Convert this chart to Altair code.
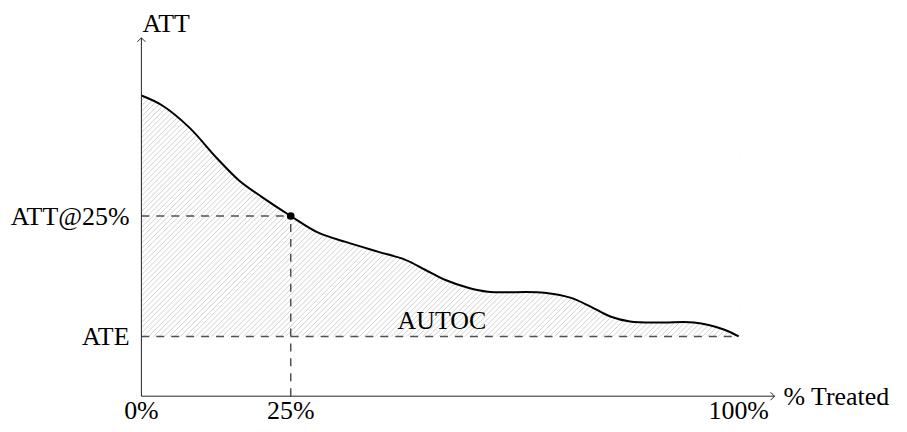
import altair as alt
import pandas as pd
import numpy as np

# ---- data ----
pct = [0, 3.5, 8, 12.5, 16.3, 20.2, 25, 29.7, 34.2, 39.7, 44.2, 47.5, 50.8, 54.7,
       58, 67.5, 71.8, 75.2, 78.5, 81.8, 87.2, 92.5, 97.5, 100]
att = [302, 292, 270, 240, 217, 200, 181, 164, 155, 145, 137, 127, 117, 109,
       105, 104, 99, 90, 80, 75, 74, 74, 67, 60]
ate_value = 60
att25_value = 181
att25_pct = 25
x_ticks = [0, 25, 100]
x_tick_labels = ["0%", "25%", "100%"]
y_labels = ["ATT@25%", "ATE"]
y_label_values = [att25_value, ate_value]

# ---- layout ----
W, H = 636, 360
XMAX, YMAX = 106, 360
FONT = "Liberation Serif"
FS = 26
INTERP = "catmull-rom"

xs = alt.Scale(domain=[0, XMAX], nice=False, zero=False)
ys = alt.Scale(domain=[0, YMAX], nice=False, zero=False)

curve = pd.DataFrame({"x": pct, "y": att})

# hatch lines (decoration) clipped to the box under the curve, then masked
L, R = 0.0, 100 / XMAX * W
T, B = H - max(att) / YMAX * H, H - ate_value / YMAX * H
step = 5.3
segs = []
c = L + T
while c < R + B:
    x1 = max(L, c - B)
    x2 = min(R, c - T)
    if x1 < x2:
        segs.append({
            "x": x1 / W * XMAX, "y": (H - (c - x1)) / H * YMAX,
            "x2": x2 / W * XMAX, "y2": (H - (c - x2)) / H * YMAX,
        })
    c += step
hatch_df = pd.DataFrame(segs)

hatch = alt.Chart(hatch_df).mark_rule(color="#cccccc", strokeWidth=0.9).encode(
    x=alt.X("x:Q", scale=xs, axis=None), x2="x2:Q",
    y=alt.Y("y:Q", scale=ys, axis=None), y2="y2:Q",
)

mask = alt.Chart(curve).mark_area(color="white", opacity=1, interpolate=INTERP).encode(
    x=alt.X("x:Q", scale=xs, axis=None),
    y=alt.Y("y:Q", scale=ys, axis=None),
    y2=alt.datum(340),
)

dash_df = pd.DataFrame({
    "x": [0, 0, att25_pct],
    "x2": [100, att25_pct, att25_pct],
    "y": [ate_value, att25_value, 0],
    "y2": [ate_value, att25_value, att25_value],
})
dashes = alt.Chart(dash_df).mark_rule(color="#505050", strokeWidth=1.5, strokeDash=[8, 7]).encode(
    x=alt.X("x:Q", scale=xs, axis=None), x2="x2:Q",
    y=alt.Y("y:Q", scale=ys, axis=None), y2="y2:Q",
)

line = alt.Chart(curve).mark_line(color="black", strokeWidth=2, interpolate=INTERP).encode(
    x=alt.X("x:Q", scale=xs, axis=None),
    y=alt.Y("y:Q", scale=ys, axis=None),
)

pt = alt.Chart(pd.DataFrame({"x": [att25_pct], "y": [att25_value]})).mark_point(
    filled=True, color="black", size=60, opacity=1).encode(
    x=alt.X("x:Q", scale=xs, axis=None),
    y=alt.Y("y:Q", scale=ys, axis=None),
)

axes_df = pd.DataFrame({"x": [0, 0], "x2": [XMAX, 0], "y": [0, 0], "y2": [0, YMAX]})
axes = alt.Chart(axes_df).mark_rule(color="#222222", strokeWidth=1).encode(
    x=alt.X("x:Q", scale=xs, axis=None), x2="x2:Q",
    y=alt.Y("y:Q", scale=ys, axis=None), y2="y2:Q",
)

arrow_r = alt.Chart(pd.DataFrame({"x": [XMAX], "y": [0]})).mark_point(
    shape="M-1,-1 L0,0 L-1,1", filled=False, color="#222222", strokeWidth=1, size=64, opacity=1).encode(
    x=alt.X("x:Q", scale=xs, axis=None), y=alt.Y("y:Q", scale=ys, axis=None))
arrow_u = alt.Chart(pd.DataFrame({"x": [0], "y": [YMAX]})).mark_point(
    shape="M-1,1 L0,0 L1,1", filled=False, color="#222222", strokeWidth=1, size=64, opacity=1).encode(
    x=alt.X("x:Q", scale=xs, axis=None), y=alt.Y("y:Q", scale=ys, axis=None))

def text_layer(df, **kw):
    return alt.Chart(df).mark_text(font=FONT, fontSize=FS, color="black", **kw).encode(
        x=alt.X("x:Q", scale=xs, axis=None),
        y=alt.Y("y:Q", scale=ys, axis=None),
        text="t:N",
    )

xt = text_layer(pd.DataFrame({"x": x_ticks, "y": [0] * 3, "t": x_tick_labels}),
                align="center", baseline="alphabetic", dy=23)
yt = text_layer(pd.DataFrame({"x": [0, 0], "y": y_label_values, "t": y_labels}),
                align="right", baseline="alphabetic", dx=-12, dy=9)
xtitle = text_layer(pd.DataFrame({"x": [XMAX], "y": [0], "t": ["% Treated"]}),
                    align="left", baseline="alphabetic", dx=9, dy=9)
ytitle = text_layer(pd.DataFrame({"x": [0], "y": [YMAX], "t": ["ATT"]}),
                    align="left", baseline="alphabetic", dx=1, dy=-6)
autoc = text_layer(pd.DataFrame({"x": [50.3], "y": [67], "t": ["AUTOC"]}),
                   align="center", baseline="alphabetic")

chart = alt.layer(
    hatch, mask, dashes, line, pt, axes, arrow_r, arrow_u, xt, yt, xtitle, ytitle, autoc
).properties(
    width=W, height=H,
    autosize=alt.AutoSizeParams(type="none"),
    padding={"left": 134, "top": 29, "right": 125, "bottom": 27},
).configure_view(stroke=None)

chart.save("out.html", embed_options={"renderer": "svg", "actions": False})
